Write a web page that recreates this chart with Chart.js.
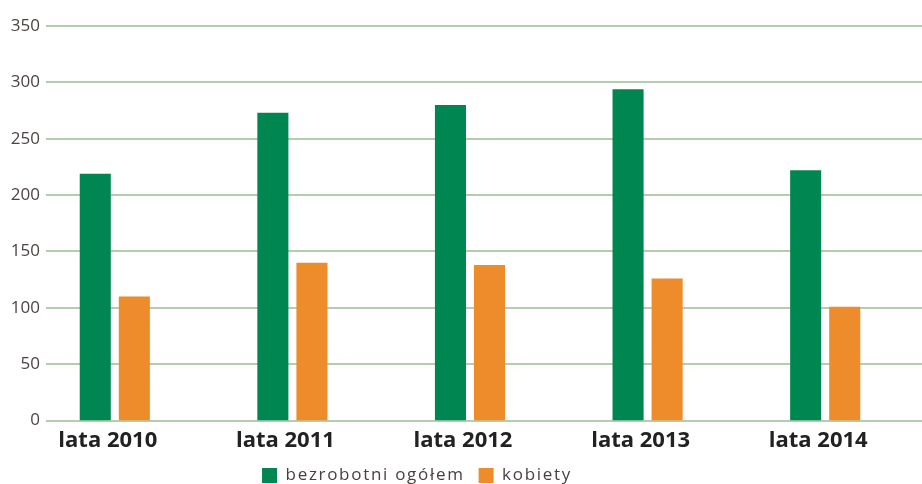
<!DOCTYPE html>
<html>
<head>
<meta charset="utf-8">
<script src="https://cdn.jsdelivr.net/npm/chart.js@4"></script>
<style>
  body { margin: 0; background: #fff; }
  #wrap { width: 922px; height: 484px; position: relative; }
</style>
</head>
<body>
<div id="wrap"><canvas id="chart"></canvas></div>
<script>
const years = ['lata 2010', 'lata 2011', 'lata 2012', 'lata 2013', 'lata 2014'];
const ogolem = [219, 273, 280, 294, 222];
const kobiety = [110, 140, 138, 126, 101];
const yMax = 350;
const yStep = 50;

// horizontal grid lines, drawn a bit right of the tick labels
const gridLines = {
  id: 'gridLines',
  beforeDatasetsDraw(chart) {
    const { ctx, chartArea, scales: { y } } = chart;
    ctx.save();
    ctx.strokeStyle = '#b4cdae';
    ctx.lineWidth = 2;
    y.ticks.forEach(t => {
      const py = Math.round(y.getPixelForValue(t.value));
      ctx.beginPath();
      ctx.moveTo(chartArea.left + 20, py);
      ctx.lineTo(chart.width, py);
      ctx.stroke();
    });
    ctx.restore();
  }
};

// legend text in the original is letter-spaced and sits left of centre
const spacedLegend = {
  id: 'spacedLegend',
  afterInit(chart) {
    const lg = chart.legend;
    const fit = lg.fit.bind(lg);
    const draw = lg.draw.bind(lg);
    lg.fit = function () {
      chart.ctx.letterSpacing = '1.7px';
      fit();
      chart.ctx.letterSpacing = '0px';
    };
    lg.draw = function () {
      const ctx = chart.ctx;
      ctx.save();
      ctx.letterSpacing = '1.7px';
      ctx.translate(-40, -8);
      draw();
      ctx.restore();
    };
  }
};

new Chart(document.getElementById('chart'), {
  type: 'bar',
  data: {
    labels: years,
    datasets: [
      {
        label: 'bezrobotni ogółem',
        data: ogolem,
        backgroundColor: '#008751',
        barPercentage: 0.795,
        categoryPercentage: 0.44
      },
      {
        label: 'kobiety',
        data: kobiety,
        backgroundColor: '#ee8b2b',
        barPercentage: 0.795,
        categoryPercentage: 0.44
      }
    ]
  },
  options: {
    responsive: true,
    maintainAspectRatio: false,
    animation: false,
    layout: { padding: { left: 0, right: 8, top: 26, bottom: -18 } },
    plugins: {
      legend: {
        position: 'bottom',
        labels: {
          boxWidth: 15,
          boxHeight: 15,
          padding: 14,
          color: '#4a3f3f',
          font: { family: 'Open Sans', size: 17 }
        }
      },
      tooltip: { enabled: false }
    },
    scales: {
      x: {
        grid: { display: false, drawTicks: false },
        border: { display: false },
        ticks: {
          color: '#222',
          padding: 7,
          labelOffset: -7,
          font: { family: 'Open Sans', size: 22, weight: 'bold' }
        }
      },
      y: {
        min: 0,
        max: yMax,
        grid: { display: false, drawTicks: false },
        border: { display: false },
        ticks: {
          stepSize: yStep,
          padding: -14,
          color: '#4d4343',
          font: { family: 'Open Sans', size: 17 }
        },
        afterFit(s) {
          s.width = 26;
          s._computeLabelArea = () => undefined; // let labels run past the narrow axis box
        }
      }
    }
  },
  plugins: [gridLines, spacedLegend]
});
</script>
</body>
</html>
